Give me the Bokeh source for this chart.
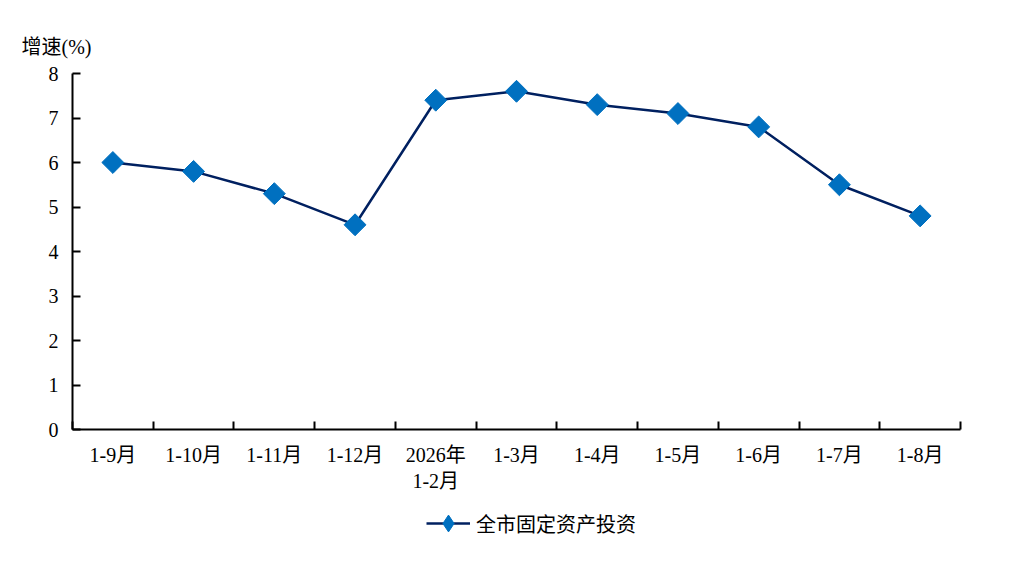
import math
from bokeh.plotting import figure
from bokeh.layouts import column
from bokeh.models import FixedTicker, Legend, LegendItem, Range1d
from bokeh.embed import file_html
from bokeh.resources import INLINE

# ---- data ----
categories = ["1-9月", "1-10月", "1-11月", "1-12月", "2026年\n1-2月",
              "1-3月", "1-4月", "1-5月", "1-6月", "1-7月", "1-8月"]
values = [6.0, 5.8, 5.3, 4.6, 7.4, 7.6, 7.3, 7.1, 6.8, 5.5, 4.8]
series_name = "全市固定资产投资"
y_ticks = [0, 1, 2, 3, 4, 5, 6, 7, 8]
y_title = "增速(%)"

FONT = "'Liberation Serif', 'Noto Sans CJK SC'"
LINE_COLOR = "#002060"
MARK_COLOR = "#0070C0"

xs = [i + 0.5 for i in range(len(categories))]

p = figure(width=1005, height=496, output_backend="svg", toolbar_location=None,
           x_range=Range1d(0, len(categories)), y_range=Range1d(0, 8),
           min_border_left=72, min_border_right=45, min_border_top=73,
           min_border_bottom=67, title=y_title)

p.title.text_font = FONT
p.title.text_font_size = "20px"
p.title.text_font_style = "normal"
p.title.align = "left"
p.title.offset = -51
p.title.standoff = 32
p.title.text_color = "#000000"

p.xgrid.visible = False
p.ygrid.visible = False
p.outline_line_color = None

line = p.line(xs, values, line_color=LINE_COLOR, line_width=2.5)
pts = p.scatter(xs, values, marker="square", angle=math.pi / 4, size=15.5,
                fill_color=MARK_COLOR, line_color=MARK_COLOR)

# x axis
xa = p.xaxis[0]
xa.ticker = FixedTicker(ticks=xs, minor_ticks=list(range(len(categories) + 1)))
xa.major_label_overrides = {x: c for x, c in zip(xs, categories)}
xa.major_tick_line_color = None
xa.minor_tick_in = 8
xa.minor_tick_out = 0
xa.minor_tick_line_width = 2
xa.minor_tick_line_color = "black"
xa.axis_line_width = 2
xa.axis_line_color = "black"
xa.major_label_text_font = FONT
xa.major_label_text_font_size = "20px"
xa.major_label_text_color = "black"
xa.major_label_standoff = 8

# y axis
ya = p.yaxis[0]
ya.ticker = FixedTicker(ticks=y_ticks)
ya.major_tick_in = 8
ya.major_tick_out = 0
ya.major_tick_line_width = 2
ya.minor_tick_line_color = None
ya.axis_line_width = 2
ya.axis_line_color = "black"
ya.major_label_text_font = FONT
ya.major_label_text_font_size = "20px"
ya.major_label_text_color = "black"
ya.major_label_standoff = 14

# ---- legend strip (separate figure below the chart) ----
lg = figure(width=1005, height=70, output_backend="svg", toolbar_location=None,
            x_range=Range1d(100, 101), y_range=Range1d(100, 101),
            min_border=0, min_border_left=0, min_border_right=0,
            min_border_top=0, min_border_bottom=0)
lg.axis.visible = False
lg.grid.visible = False
lg.outline_line_color = None
l_line = lg.line(xs, values, line_color=LINE_COLOR, line_width=2.5)
l_pts = lg.scatter(xs, values, marker="diamond", size=24,
                   fill_color=MARK_COLOR, line_color=MARK_COLOR)
legend = Legend(items=[LegendItem(label=series_name, renderers=[l_line, l_pts])],
                location=(354, 22), orientation="horizontal",
                glyph_width=44, glyph_height=42, label_standoff=6, padding=0,
                border_line_color=None, background_fill_alpha=0,
                label_text_font=FONT, label_text_font_size="20px",
                label_text_color="black", margin=0)
lg.add_layout(legend, "center")

layout = column(p, lg, spacing=0)
open("out.html", "w").write(file_html(layout, INLINE))
